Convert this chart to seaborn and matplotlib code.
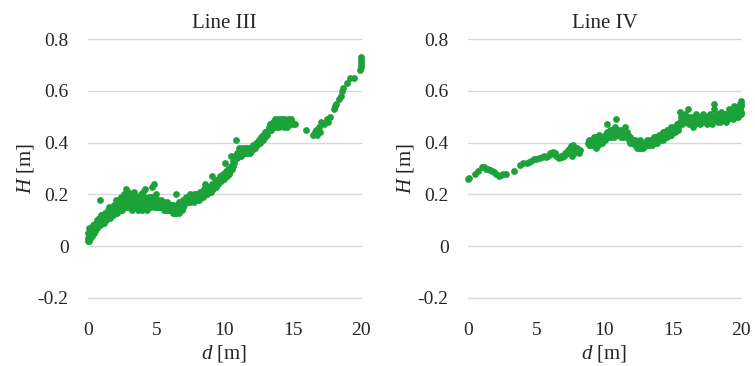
import matplotlib
matplotlib.use("Agg")
import matplotlib.pyplot as plt
import seaborn as sns
import pandas as pd

# Water depth H [m] measured along the survey lines, d = distance [m]
d_line3 = [
    0.00, 0.02, 0.05, 0.08, 0.10, 0.12, 0.15, 0.20, 0.25, 0.30, 0.35, 0.40, 0.45, 0.50,
    0.55, 0.60, 0.65, 0.70, 0.75, 0.80, 0.85, 0.90, 0.95, 1.00, 1.05, 1.10, 1.15, 1.20,
    1.25, 1.30, 1.35, 1.40, 1.45, 1.50, 1.55, 1.60, 1.65, 1.70, 1.75, 1.80, 1.85, 1.90,
    1.95, 2.00, 2.05, 2.10, 2.15, 2.20, 2.25, 2.30, 2.35, 2.40, 2.45, 2.50, 2.55, 2.60,
    2.65, 2.70, 2.75, 2.80, 2.85, 2.90, 2.95, 3.00, 3.05, 3.10, 3.15, 3.20, 3.25, 3.30,
    3.35, 3.40, 3.45, 3.50, 3.55, 3.60, 3.65, 3.70, 3.75, 3.80, 3.85, 3.90, 3.95, 4.00,
    4.05, 4.10, 4.15, 4.20, 4.25, 4.30, 4.35, 4.40, 4.45, 4.50, 4.55, 4.60, 4.65, 4.70,
    4.75, 4.80, 4.85, 4.90, 4.95, 5.00, 5.05, 5.10, 5.15, 5.20, 5.25, 5.30, 5.35, 5.40,
    5.45, 5.50, 5.55, 5.60, 5.65, 5.70, 5.75, 5.80, 5.85, 5.90, 5.95, 6.00, 6.05, 6.10,
    6.15, 6.20, 6.25, 6.30, 6.35, 6.40, 6.45, 6.50, 6.55, 6.60, 6.65, 6.70, 6.75, 6.80,
    6.85, 6.90, 6.95, 7.00, 7.05, 7.10, 7.20, 7.30, 7.40, 7.50, 7.60, 7.70, 7.80, 7.90,
    8.00, 8.10, 8.20, 8.30, 8.40, 8.50, 8.55, 8.60, 8.70, 8.80, 8.90, 9.00, 9.05, 9.10,
    9.20, 9.30, 9.40, 9.50, 9.60, 9.70, 9.80, 9.90, 10.00, 10.05, 10.10, 10.20, 10.30,
    10.40, 10.45, 10.50, 10.60, 10.70, 10.80, 10.85, 10.90, 11.00, 11.05, 11.10, 11.20,
    11.30, 11.40, 11.50, 11.60, 11.70, 11.80, 11.90, 12.00, 12.10, 12.20, 12.30, 12.40,
    12.50, 12.60, 12.70, 12.80, 12.90, 13.00, 13.10, 13.20, 13.30, 13.40, 13.50, 13.60,
    13.70, 13.80, 13.90, 14.00, 14.10, 14.20, 14.30, 14.40, 14.50, 14.60, 14.70, 14.80,
    14.90, 15.00, 15.20, 16.00, 16.50, 16.60, 16.70, 16.80, 16.90, 17.00, 17.10, 17.30,
    17.50, 17.60, 17.70, 18.00, 18.10, 18.20, 18.40, 18.50, 18.60, 18.70, 19.00, 19.20,
    19.50, 19.95, 19.97, 19.98, 20.00, 20.00, 20.00,
    0.03, 0.07, 0.13, 0.18, 0.22, 0.28, 0.33, 0.38, 0.43, 0.48,
    0.53, 0.58, 0.63, 0.68, 0.73, 0.78, 0.83, 0.88, 0.93, 0.98,
    1.03, 1.08, 1.13, 1.18, 1.23, 1.28, 1.33, 1.38, 1.43, 1.48,
    1.53, 1.58, 1.63, 1.68, 1.73, 1.78, 1.83, 1.88, 1.93, 1.98,
    2.03, 2.08, 2.13, 2.18, 2.23, 2.28, 2.33, 2.38, 2.43, 2.48,
    2.53, 2.58, 2.63, 2.68, 2.73, 2.78, 2.83, 2.88, 2.93, 2.98,
    3.03, 3.08, 3.13, 3.18, 3.23, 3.28, 3.33, 3.38, 3.43, 3.48,
    3.53, 3.58, 3.63, 3.68, 3.73, 3.78, 3.83, 3.88, 3.93, 3.98,
    4.03, 4.08, 4.13, 4.18, 4.23, 4.28, 4.33, 4.38, 4.43, 4.48,
    4.53, 4.58, 4.63, 4.68, 4.73, 4.78, 4.83, 4.88, 4.93, 4.98,
    5.03, 5.08, 5.13, 5.18, 5.23, 5.28, 5.33, 5.38, 5.43, 5.48,
    5.53, 5.58, 5.63, 5.68, 5.73, 5.78, 5.83, 5.88, 5.93, 5.98,
    6.03, 6.08, 6.13, 6.18, 6.23, 6.28, 6.33, 6.38, 6.43, 6.48,
    6.53, 6.58, 6.63, 6.68, 6.73, 6.78, 6.83, 6.88, 6.93, 6.98,
    7.03, 7.08, 7.15, 7.25, 7.35, 7.45, 7.55, 7.65, 7.75, 7.85,
    7.95, 8.05, 8.15, 8.25, 8.35, 8.45, 8.65, 8.75, 8.85, 8.95,
    9.15, 9.25, 9.35, 9.45, 9.55, 9.65, 9.75, 9.85, 9.95, 10.15,
    10.25, 10.35, 10.55, 10.65, 10.75, 10.95, 11.15, 11.25, 11.35, 11.45,
    11.55, 11.65, 11.75, 11.85, 11.95, 12.05, 12.15, 12.25, 12.35, 12.45,
    12.55, 12.65, 12.75, 12.85, 12.95, 13.05, 13.15, 13.25, 13.35, 13.45,
    13.55, 13.65, 13.75, 13.85, 13.95, 14.05, 14.15, 14.25, 14.35, 14.45,
    14.55, 14.65, 14.75, 14.85, 14.95,
]
h_line3 = [
    0.03, 0.05, 0.02, 0.07, 0.04, 0.03, 0.06, 0.04, 0.05, 0.07, 0.05, 0.06, 0.08, 0.06,
    0.09, 0.07, 0.10, 0.08, 0.09, 0.11, 0.08, 0.18, 0.10, 0.09, 0.12, 0.10, 0.11, 0.09,
    0.12, 0.11, 0.10, 0.13, 0.11, 0.12, 0.15, 0.11, 0.13, 0.12, 0.14, 0.13, 0.12, 0.15,
    0.13, 0.14, 0.18, 0.15, 0.13, 0.16, 0.14, 0.17, 0.15, 0.19, 0.16, 0.14, 0.18, 0.16,
    0.20, 0.15, 0.17, 0.22, 0.16, 0.18, 0.21, 0.15, 0.17, 0.20, 0.16, 0.19, 0.14, 0.17,
    0.21, 0.16, 0.18, 0.15, 0.17, 0.19, 0.14, 0.16, 0.18, 0.15, 0.17, 0.20, 0.14, 0.16,
    0.21, 0.15, 0.18, 0.22, 0.16, 0.14, 0.17, 0.15, 0.19, 0.16, 0.18, 0.15, 0.17, 0.23,
    0.16, 0.24, 0.18, 0.15, 0.20, 0.17, 0.15, 0.18, 0.16, 0.17, 0.15, 0.16, 0.18, 0.15,
    0.17, 0.16, 0.14, 0.17, 0.15, 0.16, 0.14, 0.17, 0.15, 0.16, 0.14, 0.15, 0.16, 0.14,
    0.15, 0.13, 0.16, 0.14, 0.15, 0.13, 0.20, 0.15, 0.14, 0.16, 0.13, 0.17, 0.15, 0.16,
    0.14, 0.17, 0.15, 0.18, 0.16, 0.17, 0.19, 0.17, 0.18, 0.20, 0.18, 0.19, 0.17, 0.20,
    0.19, 0.18, 0.21, 0.19, 0.20, 0.22, 0.24, 0.20, 0.21, 0.23, 0.22, 0.21, 0.27, 0.24,
    0.23, 0.25, 0.24, 0.26, 0.25, 0.27, 0.26, 0.28, 0.27, 0.32, 0.29, 0.28, 0.30,
    0.29, 0.35, 0.31, 0.33, 0.32, 0.35, 0.41, 0.34, 0.36, 0.38, 0.37, 0.35,
    0.37, 0.36, 0.38, 0.37, 0.36, 0.38, 0.37, 0.38, 0.39, 0.38, 0.40, 0.39,
    0.41, 0.40, 0.42, 0.41, 0.43, 0.44, 0.43, 0.45, 0.46, 0.45, 0.47, 0.46,
    0.49, 0.47, 0.48, 0.46, 0.48, 0.47, 0.49, 0.47, 0.48, 0.46, 0.49, 0.47,
    0.48, 0.47, 0.47, 0.45, 0.43, 0.44, 0.45, 0.43, 0.46, 0.44, 0.48, 0.47,
    0.49, 0.48, 0.50, 0.53, 0.54, 0.55, 0.57, 0.58, 0.60, 0.61, 0.63, 0.65,
    0.65, 0.68, 0.70, 0.71, 0.72, 0.73, 0.69,
    0.02, 0.04, 0.05, 0.03, 0.06, 0.04, 0.06, 0.08, 0.05, 0.07,
    0.08, 0.09, 0.07, 0.09, 0.10, 0.08, 0.10, 0.09, 0.11, 0.12,
    0.10, 0.09, 0.12, 0.11, 0.10, 0.13, 0.12, 0.11, 0.12, 0.14,
    0.12, 0.13, 0.12, 0.14, 0.13, 0.15, 0.14, 0.13, 0.16, 0.15,
    0.14, 0.16, 0.17, 0.15, 0.18, 0.16, 0.14, 0.17, 0.15, 0.18,
    0.17, 0.15, 0.17, 0.18, 0.16, 0.19, 0.17, 0.15, 0.17, 0.19,
    0.16, 0.18, 0.17, 0.15, 0.18, 0.16, 0.15, 0.18, 0.16, 0.17,
    0.19, 0.16, 0.17, 0.15, 0.17, 0.16, 0.18, 0.16, 0.15, 0.18,
    0.17, 0.19, 0.16, 0.17, 0.15, 0.18, 0.16, 0.17, 0.16, 0.18,
    0.17, 0.19, 0.16, 0.18, 0.17, 0.19, 0.16, 0.17, 0.16, 0.15,
    0.16, 0.17, 0.15, 0.16, 0.17, 0.15, 0.16, 0.17, 0.15, 0.16,
    0.15, 0.16, 0.14, 0.15, 0.16, 0.15, 0.14, 0.15, 0.16, 0.15,
    0.14, 0.15, 0.16, 0.14, 0.15, 0.13, 0.14, 0.15, 0.14, 0.13,
    0.16, 0.15, 0.14, 0.16, 0.14, 0.17, 0.15, 0.16, 0.18, 0.16,
    0.17, 0.18, 0.17, 0.18, 0.19, 0.17, 0.19, 0.18, 0.20, 0.19,
    0.18, 0.20, 0.19, 0.20, 0.21, 0.19, 0.22, 0.20, 0.21, 0.23,
    0.22, 0.24, 0.23, 0.25, 0.24, 0.26, 0.25, 0.27, 0.26, 0.27,
    0.30, 0.28, 0.30, 0.31, 0.34, 0.36, 0.35, 0.38, 0.36, 0.37,
    0.36, 0.38, 0.37, 0.36, 0.38, 0.37, 0.38, 0.39, 0.40, 0.40,
    0.41, 0.41, 0.42, 0.43, 0.42, 0.44, 0.44, 0.46, 0.47, 0.46,
    0.48, 0.47, 0.48, 0.46, 0.49, 0.47, 0.49, 0.48, 0.46, 0.49,
    0.47, 0.48, 0.47, 0.49, 0.48,
]

d_line4 = [
    0.00, 0.05, 0.50, 0.75, 1.00, 1.15, 1.30, 1.45, 1.60, 1.75, 1.90, 2.05, 2.30, 2.45,
    2.60, 2.80, 3.40, 3.80, 4.00, 4.30, 4.45, 4.60, 4.80, 5.00, 5.20, 5.40, 5.60, 5.70,
    5.85, 6.00, 6.10, 6.20, 6.35, 6.45, 6.60, 6.70, 6.80, 6.90, 7.00, 7.10, 7.20, 7.30,
    7.40, 7.45, 7.55, 7.60, 7.70, 7.80, 7.85, 8.00, 8.10, 8.20, 8.80, 8.90, 9.00, 9.10,
    9.20, 9.30, 9.40, 9.50, 9.60, 9.70, 9.80, 9.90, 10.00, 10.10, 10.15, 10.20, 10.30,
    10.40, 10.50, 10.60, 10.70, 10.80, 10.85, 10.90, 11.00, 11.10, 11.20, 11.30, 11.40,
    11.50, 11.60, 11.70, 11.80, 11.90, 12.00, 12.10, 12.20, 12.30, 12.40, 12.50, 12.60,
    12.70, 12.80, 12.90, 13.00, 13.10, 13.20, 13.30, 13.40, 13.50, 13.60, 13.70, 13.80,
    13.90, 14.00, 14.10, 14.20, 14.30, 14.40, 14.50, 14.60, 14.70, 14.80, 14.90, 15.00,
    15.10, 15.20, 15.30, 15.40, 15.50, 15.55, 15.60, 15.70, 15.80, 15.90, 16.00, 16.10,
    16.20, 16.30, 16.40, 16.50, 16.60, 16.70, 16.80, 16.90, 17.00, 17.10, 17.20, 17.30,
    17.40, 17.50, 17.60, 17.70, 17.80, 17.90, 18.00, 18.05, 18.10, 18.20, 18.30, 18.40,
    18.50, 18.60, 18.70, 18.80, 18.90, 19.00, 19.10, 19.20, 19.30, 19.40, 19.50, 19.60,
    19.70, 19.80, 19.90, 19.95, 20.00, 20.00, 20.00,
    8.85, 8.95, 9.05, 9.15, 9.25, 9.35, 9.45, 9.55, 9.65, 9.75,
    9.85, 9.95, 10.05, 10.25, 10.35, 10.45, 10.55, 10.65, 10.75, 10.95,
    11.05, 11.15, 11.25, 11.35, 11.45, 11.55, 11.65, 11.75, 11.85, 11.95,
    12.05, 12.15, 12.25, 12.35, 12.45, 12.55, 12.65, 12.75, 12.85, 12.95,
    13.05, 13.15, 13.25, 13.35, 13.45, 13.55, 13.65, 13.75, 13.85, 13.95,
    14.05, 14.15, 14.25, 14.35, 14.45, 14.55, 14.65, 14.75, 14.85, 14.95,
    15.05, 15.15, 15.25, 15.35, 15.45, 15.65, 15.75, 15.85, 15.95, 16.05,
    16.15, 16.25, 16.35, 16.45, 16.55, 16.65, 16.75, 16.85, 16.95, 17.05,
    17.15, 17.25, 17.35, 17.45, 17.55, 17.65, 17.75, 17.85, 17.95, 18.15,
    18.25, 18.35, 18.45, 18.55, 18.65, 18.75, 18.85, 18.95, 19.05, 19.15,
    19.25, 19.35, 19.45, 19.55, 19.65, 19.75, 19.85, 19.92, 19.97, 19.99,
]
h_line4 = [
    0.260, 0.265, 0.280, 0.290, 0.305, 0.305, 0.300, 0.300, 0.295, 0.290, 0.285, 0.280, 0.270, 0.275,
    0.280, 0.280, 0.290, 0.315, 0.320, 0.320, 0.325, 0.330, 0.335, 0.335, 0.340, 0.345, 0.350, 0.345,
    0.350, 0.360, 0.355, 0.365, 0.360, 0.350, 0.345, 0.340, 0.350, 0.345, 0.350, 0.360, 0.355, 0.370,
    0.365, 0.380, 0.385, 0.350, 0.390, 0.360, 0.370, 0.380, 0.360, 0.370, 0.400, 0.410, 0.390, 0.400,
    0.420, 0.400, 0.380, 0.410, 0.430, 0.400, 0.420, 0.410, 0.430, 0.420, 0.470, 0.440, 0.420,
    0.450, 0.430, 0.440, 0.420, 0.460, 0.490, 0.440, 0.430, 0.450, 0.420, 0.440, 0.430,
    0.460, 0.420, 0.430, 0.410, 0.420, 0.400, 0.410, 0.390, 0.400, 0.380, 0.390, 0.410,
    0.380, 0.400, 0.390, 0.385, 0.400, 0.390, 0.410, 0.400, 0.390, 0.410, 0.400, 0.420,
    0.410, 0.430, 0.410, 0.420, 0.440, 0.420, 0.430, 0.450, 0.430, 0.440, 0.460, 0.440,
    0.460, 0.450, 0.470, 0.450, 0.480, 0.520, 0.500, 0.470, 0.490, 0.510, 0.480, 0.530,
    0.470, 0.500, 0.480, 0.460, 0.490, 0.510, 0.480, 0.500, 0.470, 0.490, 0.510, 0.480,
    0.500, 0.470, 0.490, 0.510, 0.480, 0.500, 0.550, 0.530, 0.490, 0.510, 0.480, 0.500,
    0.520, 0.490, 0.510, 0.500, 0.480, 0.510, 0.530, 0.500, 0.520, 0.490, 0.540, 0.510,
    0.530, 0.500, 0.550, 0.520, 0.560, 0.510, 0.540,
    0.39, 0.40, 0.41, 0.39, 0.40, 0.42, 0.40, 0.39, 0.41, 0.42,
    0.40, 0.42, 0.41, 0.43, 0.44, 0.42, 0.45, 0.43, 0.44, 0.45,
    0.44, 0.43, 0.45, 0.42, 0.44, 0.43, 0.44, 0.42, 0.40, 0.41,
    0.41, 0.40, 0.41, 0.39, 0.40, 0.38, 0.39, 0.40, 0.38, 0.40,
    0.39, 0.41, 0.40, 0.39, 0.41, 0.40, 0.42, 0.41, 0.40, 0.42,
    0.42, 0.43, 0.41, 0.43, 0.44, 0.42, 0.44, 0.45, 0.43, 0.45,
    0.45, 0.44, 0.46, 0.46, 0.47, 0.48, 0.50, 0.48, 0.49, 0.50,
    0.49, 0.48, 0.47, 0.50, 0.48, 0.47, 0.49, 0.50, 0.48, 0.50,
    0.48, 0.49, 0.50, 0.48, 0.50, 0.48, 0.49, 0.47, 0.49, 0.50,
    0.49, 0.51, 0.48, 0.50, 0.51, 0.49, 0.51, 0.50, 0.49, 0.51,
    0.52, 0.50, 0.51, 0.52, 0.50, 0.52, 0.51, 0.53, 0.55, 0.52,
]

titles = ["Line III", "Line IV"]
x_ticks = [0, 5, 10, 15, 20]
y_ticks = [-0.2, 0, 0.2, 0.4, 0.6, 0.8]
y_tick_labels = ["-0.2", "0", "0.2", "0.4", "0.6", "0.8"]

sns.set_theme(style="white")
plt.rcParams["font.family"] = ["Liberation Serif", "DejaVu Serif"]
plt.rcParams["mathtext.fontset"] = "custom"
plt.rcParams["mathtext.it"] = "Liberation Serif:italic"
plt.rcParams["mathtext.rm"] = "Liberation Serif"

green = "#1DA23A"
text_color = "#262626"

fig = plt.figure(figsize=(7.55, 3.66), dpi=100)
axes = [
    fig.add_axes([88 / 755, 68 / 366, 273 / 755, 259 / 366]),
    fig.add_axes([468 / 755, 68 / 366, 273 / 755, 259 / 366]),
]

frames = [
    pd.DataFrame({"d": d_line3, "H": h_line3}),
    pd.DataFrame({"d": d_line4, "H": h_line4}),
]

for ax, df, title in zip(axes, frames, titles):
    sns.scatterplot(data=df, x="d", y="H", ax=ax, color=green, s=24,
                    linewidth=0, alpha=1.0, zorder=3, clip_on=False)
    ax.set_xlim(0, 20)
    ax.set_ylim(-0.2, 0.8)
    ax.set_xticks(x_ticks)
    ax.set_yticks(y_ticks)
    ax.set_yticklabels(y_tick_labels)
    ax.yaxis.grid(True, color="#d9d9d9", linewidth=1.0)
    ax.xaxis.grid(False)
    for gl in ax.get_ygridlines():
        gl.set_clip_on(False)
    for spine in ax.spines.values():
        spine.set_visible(False)
    ax.tick_params(axis="both", length=0, labelsize=14, colors=text_color)
    ax.tick_params(axis="y", pad=14)
    ax.tick_params(axis="x", pad=17)
    ax.set_xlabel(r"$d$ [m]", fontsize=15, color=text_color, labelpad=3)
    ax.set_ylabel(r"$H$ [m]", fontsize=15, color=text_color, labelpad=1)
    ax.set_title(title, fontsize=15, color=text_color, pad=8)

fig.savefig("out.png", dpi=100)
